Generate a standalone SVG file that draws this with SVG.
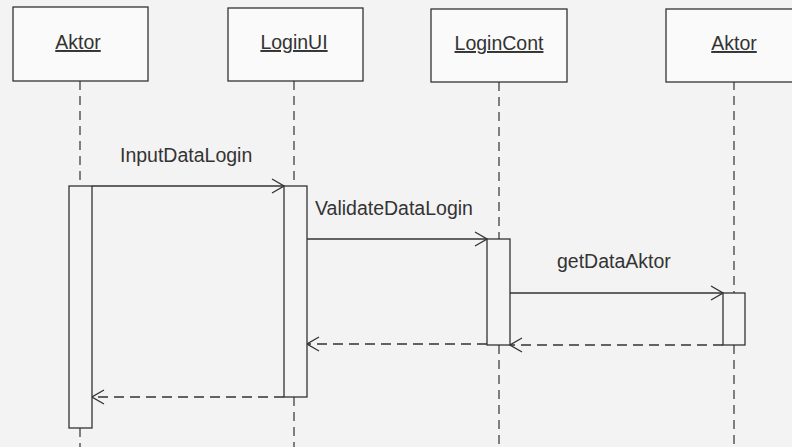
<svg xmlns="http://www.w3.org/2000/svg" width="792" height="447" viewBox="0 0 792 447">
  <defs>
    <style>
      .box { fill: #fafafa; stroke: #333; stroke-width: 1.3; }
      .bar { fill: #f4f4f4; stroke: #333; stroke-width: 1.3; }
      .life { stroke: #333; stroke-width: 1.2; stroke-dasharray: 9 6; fill: none; }
      .msg { stroke: #333; stroke-width: 1.3; fill: none; }
      .ret { stroke: #333; stroke-width: 1.3; fill: none; stroke-dasharray: 10 6; }
      .lbl { font-family: "Liberation Sans", Arial, sans-serif; font-size: 19.5px; fill: #333; }
      .name { font-family: "Liberation Sans", Arial, sans-serif; font-size: 19.5px; fill: #333; text-anchor: middle; text-decoration: underline; }
    </style>
    <marker id="open" viewBox="0 0 14 16" refX="13" refY="8" markerWidth="14" markerHeight="16" markerUnits="userSpaceOnUse" orient="auto">
      <path d="M1,1 L13,8 L1,15" fill="none" stroke="#333" stroke-width="1.3"/>
    </marker>
  </defs>

  <rect width="792" height="447" fill="#f3f3f3"/>

  <!-- lifelines and message arrows -->
  <g id="connectors">
    <line class="life" x1="80" y1="81" x2="80" y2="186"/>
    <line class="life" x1="80" y1="428" x2="80" y2="447"/>
    <line class="life" x1="294" y1="81" x2="294" y2="186"/>
    <line class="life" x1="294" y1="397" x2="294" y2="447"/>
    <line class="life" x1="499" y1="82" x2="499" y2="239"/>
    <line class="life" x1="499" y1="345" x2="499" y2="447"/>
    <line class="life" x1="734" y1="81" x2="734" y2="293"/>
    <line class="life" x1="734" y1="345" x2="734" y2="447"/>

    <line class="msg" x1="92" y1="186" x2="284" y2="186" marker-end="url(#open)"/>
    <line class="msg" x1="307" y1="239" x2="487" y2="239" marker-end="url(#open)"/>
    <line class="msg" x1="510" y1="293" x2="723" y2="293" marker-end="url(#open)"/>
    <line class="ret" x1="723" y1="345" x2="510" y2="345" marker-end="url(#open)"/>
    <line class="ret" x1="487" y1="344" x2="307" y2="344" marker-end="url(#open)"/>
    <line class="ret" x1="284" y1="397" x2="92" y2="397" marker-end="url(#open)"/>

    <text class="lbl" x="120" y="162">InputDataLogin</text>
    <text class="lbl" x="315" y="215">ValidateDataLogin</text>
    <text class="lbl" x="557" y="268">getDataAktor</text>
  </g>

  <!-- participants -->
  <g id="aktor1">
    <rect class="box" x="13" y="7" width="135" height="74"/>
    <text class="name" x="78" y="49">Aktor</text>
    <rect class="bar" x="69" y="186" width="23" height="242"/>
  </g>
  <g id="loginui">
    <rect class="box" x="228" y="8" width="135" height="73"/>
    <text class="name" x="294" y="49">LoginUI</text>
    <rect class="bar" x="284" y="186" width="23" height="211"/>
  </g>
  <g id="logincont">
    <rect class="box" x="431" y="9" width="136" height="73"/>
    <text class="name" x="499" y="50">LoginCont</text>
    <rect class="bar" x="487" y="239" width="23" height="106"/>
  </g>
  <g id="aktor2">
    <rect class="box" x="666" y="9" width="140" height="73"/>
    <text class="name" x="734" y="50">Aktor</text>
    <rect class="bar" x="723" y="293" width="22" height="52"/>
  </g>
</svg>
